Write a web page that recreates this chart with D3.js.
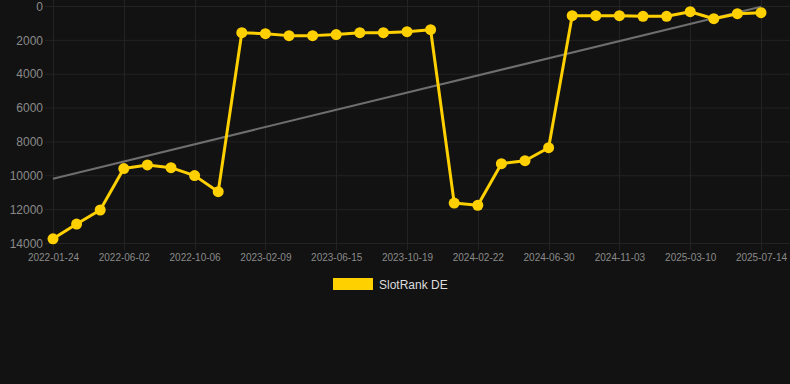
<!DOCTYPE html>
<html>
<head>
<meta charset="utf-8">
<script src="https://cdn.jsdelivr.net/npm/d3@7"></script>
<style>
  html, body { margin: 0; padding: 0; background: #121212; }
  svg { display: block; }
</style>
</head>
<body>
<div id="chart"></div>
<script>
const dates = [
  "2022-01-24","2022-03-07","2022-04-20","2022-06-02","2022-07-14","2022-08-25",
  "2022-10-06","2022-11-17","2022-12-29","2023-02-09","2023-03-23","2023-05-04",
  "2023-06-15","2023-07-27","2023-09-07","2023-10-19","2023-11-30","2024-01-11",
  "2024-02-22","2024-04-05","2024-05-18","2024-06-30","2024-08-11","2024-09-22",
  "2024-11-03","2024-12-15","2025-01-27","2025-03-10","2025-04-21","2025-06-02",
  "2025-07-14"
];
const rankDE = [
  13750, 12880, 12050, 9600, 9390, 9550,
  10020, 10970, 1575, 1635, 1750, 1750,
  1690, 1575, 1575, 1515, 1400, 11640,
  11770, 9315, 9140, 8370, 573, 573,
  573, 610, 610, 337, 750, 455,
  396
];
const trendEnds = [10200, 40];
const yTicks = [0, 2000, 4000, 6000, 8000, 10000, 12000, 14000];
const seriesName = "SlotRank DE";

const W = 790, H = 384;
const svg = d3.select("#chart").append("svg").attr("width", W).attr("height", H);
svg.append("rect").attr("width", W).attr("height", H).attr("fill", "#121212");

const x = d3.scalePoint().domain(dates).range([53, 761]);
const y = d3.scaleLinear().domain([0, 14000]).range([6, 243]);

const labeled = dates.filter((d, i) => i % 3 === 0);

// horizontal grid
svg.append("g").selectAll("line").data(yTicks).join("line")
  .attr("x1", 45).attr("x2", 790)
  .attr("y1", d => y(d) + 0.5).attr("y2", d => y(d) + 0.5)
  .attr("stroke", "#232323").attr("stroke-width", 1);

// vertical grid
svg.append("g").selectAll("line").data(labeled).join("line")
  .attr("x1", d => Math.round(x(d)) + 0.5).attr("x2", d => Math.round(x(d)) + 0.5)
  .attr("y1", 0).attr("y2", 250)
  .attr("stroke", "#232323").attr("stroke-width", 1);

// y axis labels
const yAxis = d3.axisLeft(y).tickValues(yTicks).tickSize(0).tickPadding(0).tickFormat(d3.format("d"));
const gy = svg.append("g").attr("transform", "translate(43,0)").call(yAxis);
gy.select(".domain").remove();
gy.selectAll("text").attr("fill", "#8a8a8a").attr("font-size", 12)
  .attr("font-family", "'Liberation Sans', Arial, sans-serif").attr("dy", "0.35em");

// x axis labels
const xAxis = d3.axisBottom(x).tickValues(labeled).tickSize(0).tickPadding(0);
const gx = svg.append("g").attr("transform", "translate(0,254)").call(xAxis);
gx.select(".domain").remove();
gx.selectAll("text").attr("fill", "#8a8a8a").attr("font-size", 10)
  .attr("font-family", "'Liberation Sans', Arial, sans-serif").attr("dy", "0.71em");

// trend line
svg.append("line")
  .attr("x1", x(dates[0])).attr("y1", y(trendEnds[0]))
  .attr("x2", x(dates[dates.length - 1])).attr("y2", y(trendEnds[1]))
  .attr("stroke", "#6e6e6e").attr("stroke-width", 2);

// series line
const line = d3.line().x((d, i) => x(dates[i])).y(d => y(d));
svg.append("path").datum(rankDE).attr("d", line)
  .attr("fill", "none").attr("stroke", "#FFD000").attr("stroke-width", 3)
  .attr("stroke-linejoin", "round");

svg.append("g").selectAll("circle").data(rankDE).join("circle")
  .attr("cx", (d, i) => x(dates[i])).attr("cy", d => y(d)).attr("r", 5.5)
  .attr("fill", "#FFD000");

// legend
const lg = svg.append("g");
lg.append("rect").attr("x", 333).attr("y", 278).attr("width", 40).attr("height", 12).attr("fill", "#FFD000");
lg.append("text").attr("x", 379).attr("y", 288.5).text(seriesName)
  .attr("fill", "#dddddd").attr("font-size", 12)
  .attr("font-family", "'Liberation Sans', Arial, sans-serif");
</script>
</body>
</html>
